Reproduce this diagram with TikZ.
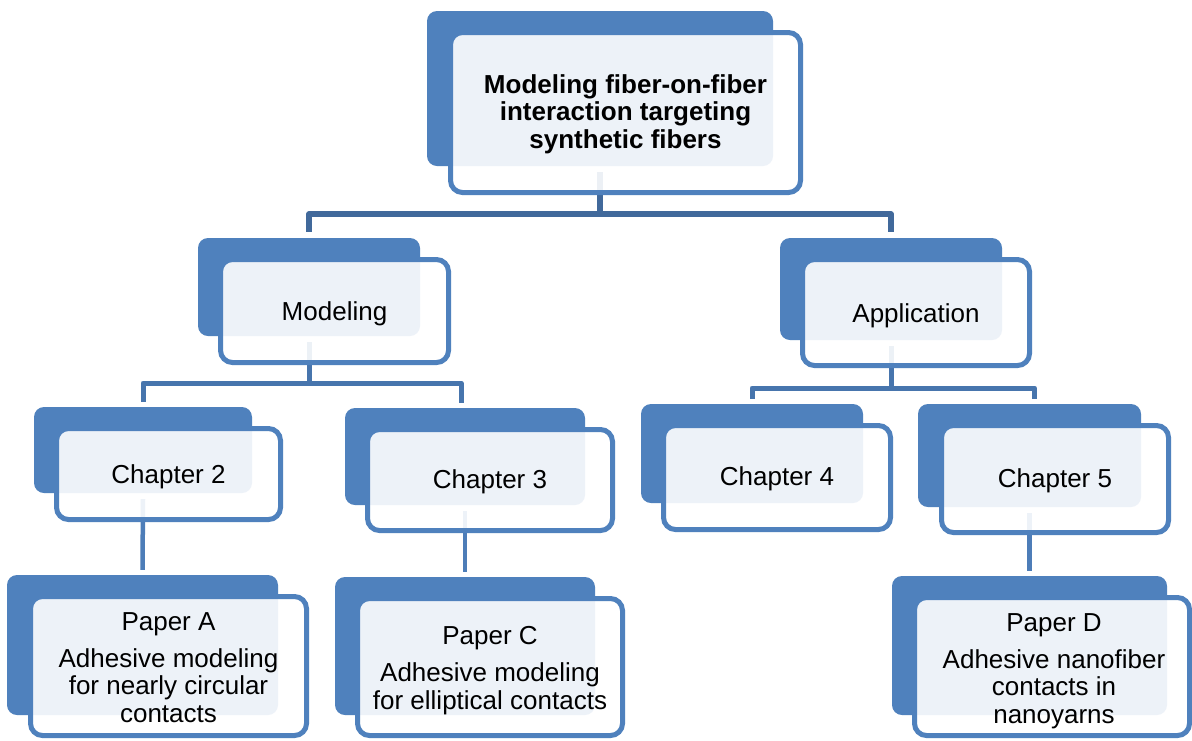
\documentclass[tikz,border=0pt]{standalone}
\usepackage{fontspec}
\setmainfont{Liberation Sans}
\pgfdeclarelayer{bg}
\pgfsetlayers{bg,main}
\definecolor{accent}{HTML}{4F81BD}
\definecolor{linkA}{HTML}{41699B}
\definecolor{linkB}{HTML}{4775AD}
\definecolor{linkC}{HTML}{4D7DB8}
\tikzset{
  backbox/.style={fill=accent, draw=none, rounded corners=10pt, inner sep=0pt},
  frontbox/.style={draw=accent, line width=5pt, fill=white, fill opacity=0.9,
    draw opacity=1, rounded corners=12pt, inner sep=0pt},
  cardtext/.style={text=black, align=center, inner sep=0pt, anchor=north,
    font=\fontsize{26}{27.5}\selectfont},
  titletext/.style={cardtext, font=\fontsize{26}{27.5}\selectfont\bfseries},
  linkone/.style={draw=linkA, line width=5.5pt, line join=round},
  linktwo/.style={draw=linkB, line width=5pt, line join=round},
  linkthree/.style={draw=linkC, line width=4.5pt},
}
\begin{document}
\begin{tikzpicture}[x=1pt,y=-1pt]
\useasboundingbox (0,0) rectangle (1192,740);

% back cards
\node[backbox, minimum width=346pt, minimum height=155pt] (Tb)  at (600,88.5) {};
\node[backbox, minimum width=222pt, minimum height=98pt]  (Mb)  at (309,287) {};
\node[backbox, minimum width=222pt, minimum height=102pt] (Pb)  at (891,289) {};
\node[backbox, minimum width=218pt, minimum height=86pt]  (C2b) at (143,450) {};
\node[backbox, minimum width=240pt, minimum height=97pt]  (C3b) at (465,456.5) {};
\node[backbox, minimum width=222pt, minimum height=99pt]  (C4b) at (752,453.5) {};
\node[backbox, minimum width=223pt, minimum height=103pt] (C5b) at (1029.5,455.5) {};
\node[backbox, minimum width=271pt, minimum height=140pt] (PAb) at (142.5,645) {};
\node[backbox, minimum width=260pt, minimum height=138pt] (PCb) at (465,646) {};
\node[backbox, minimum width=275pt, minimum height=139pt] (PDb) at (1029.5,645.5) {};

% front cards
\node[frontbox, minimum width=350pt, minimum height=160pt] (T)  at (625.5,112.5) {};
\node[frontbox, minimum width=228pt, minimum height=103pt] (M)  at (334.5,311) {};
\node[frontbox, minimum width=227pt, minimum height=106pt] (P)  at (916,312.5) {};
\node[frontbox, minimum width=224pt, minimum height=91pt]  (C2) at (168.5,474) {};
\node[frontbox, minimum width=245pt, minimum height=101pt] (C3) at (490,480) {};
\node[frontbox, minimum width=227pt, minimum height=104pt] (C4) at (777,477.5) {};
\node[frontbox, minimum width=227pt, minimum height=107pt] (C5) at (1055,479) {};
\node[frontbox, minimum width=276pt, minimum height=139pt] (PA) at (168.5,666) {};
\node[frontbox, minimum width=265pt, minimum height=137pt] (PC) at (490,667) {};
\node[frontbox, minimum width=275pt, minimum height=138pt] (PD) at (1052,666.5) {};

% card texts
\node[titletext] (Tt) at (625.5,74) {Modeling fiber-on-fiber\\interaction targeting\\synthetic fibers};
\node[cardtext] (Mt)  at (334.5,301) {Modeling};
\node[cardtext] (Pt)  at (916,303) {Application};
\node[cardtext] (C2t) at (168.5,464) {Chapter 2};
\node[cardtext] (C3t) at (490,469) {Chapter 3};
\node[cardtext] (C4t) at (777,466) {Chapter 4};
\node[cardtext] (C5t) at (1055,468) {Chapter 5};
\node[cardtext] (PAt) at (168.5,612) {Paper A\\[9.5pt]Adhesive modeling\\for nearly circular\\contacts};
\node[cardtext] (PCt) at (490,626) {Paper C\\[10pt]Adhesive modeling\\for elliptical contacts};
\node[cardtext] (PDt) at (1054,613) {Paper D\\[9.5pt]Adhesive nanofiber\\contacts in\\nanoyarns};

% page background and connectors, kept beneath the cards
\begin{pgfonlayer}{bg}
  \fill[white] (0,0) rectangle (1192,740);

  \coordinate (j1) at (600,214);
  \draw[linkone] ([yshift=-6pt]Tb.south) -- (j1);
  \draw[linkone] ([yshift=6pt]Mb.north) |- (j1) -| ([yshift=6pt]Pb.north);

  \coordinate (j2) at (309,383);
  \draw[linktwo] ([yshift=-6pt]Mb.south) -- (j2);
  \draw[linktwo] ([yshift=5pt]C2b.north) |- (j2) -| ([xshift=-4pt,yshift=5pt]C3b.north);

  \coordinate (j3) at (891,388);
  \draw[linktwo] ([yshift=-6pt]Pb.south) -- (j3);
  \draw[linktwo] ([yshift=5pt]C4b.north) |- (j3) -| ([xshift=5pt,yshift=5pt]C5b.north);

  \draw[linkthree] ([yshift=-6pt]C2b.south) -- ([yshift=5pt]PAb.north);
  \draw[linkthree] ([yshift=-6pt]C3b.south) -- ([yshift=5pt]PCb.north);
  \draw[linkthree] ([yshift=-6pt]C5b.south) -- ([yshift=5pt]PDb.north);
\end{pgfonlayer}
\end{tikzpicture}
\end{document}
